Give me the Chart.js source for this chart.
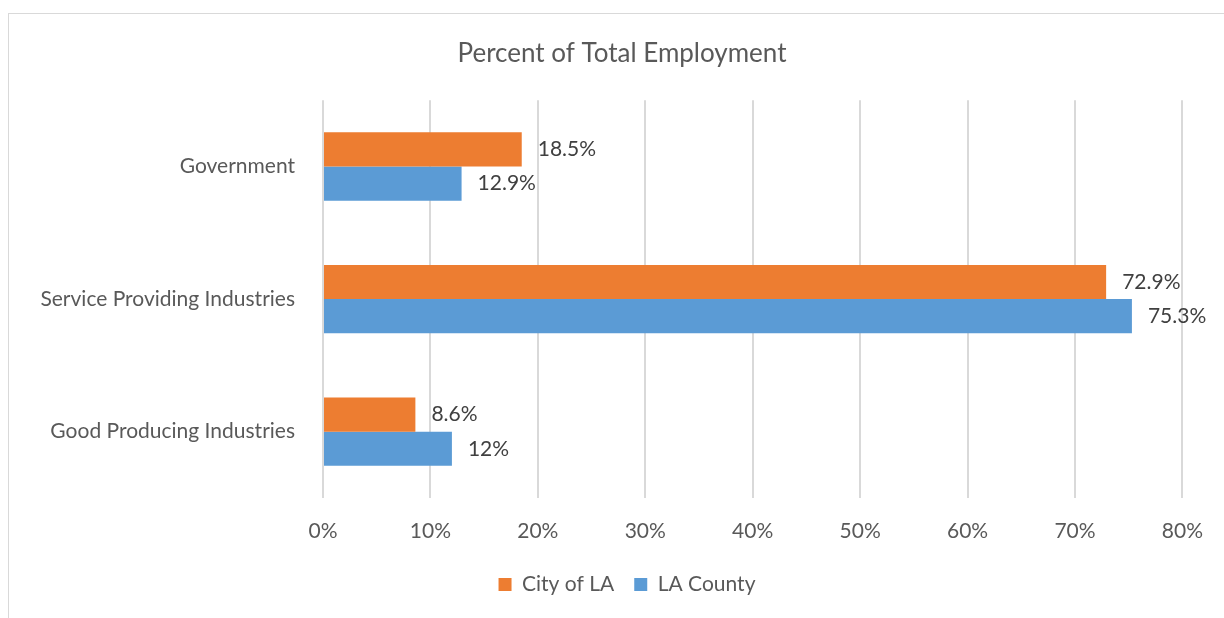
<!DOCTYPE html>
<html>
<head>
<meta charset="utf-8">
<script src="https://cdn.jsdelivr.net/npm/chart.js@4.4.1/dist/chart.umd.min.js"></script>
<style>
  html, body { margin: 0; padding: 0; background: #fff; }
  #frame {
    position: absolute; left: 8px; top: 13px; width: 1300px; height: 700px;
    border-left: 1px solid #d9d9d9; border-top: 1px solid #d9d9d9;
  }
  #wrap { position: absolute; left: 0; top: 0; width: 1224px; height: 618px; }
</style>
</head>
<body>
<div id="frame"></div>
<div id="wrap"><canvas id="chart-employment"></canvas></div>
<script>
const categories = ["Government", "Service Providing Industries", "Good Producing Industries"];
const cityOfLA = [18.5, 72.9, 8.6];
const laCounty = [12.9, 75.3, 12];
const tickStep = 10;
const tickMax = 80;

const font = "Lato";
const textColor = "#595959";

// value labels at the end of each bar
const barLabels = {
  id: "barLabels",
  afterDatasetsDraw(chart) {
    const ctx = chart.ctx;
    ctx.save();
    ctx.font = "21px " + font;
    ctx.fillStyle = "#404040";
    ctx.textAlign = "left";
    ctx.textBaseline = "middle";
    chart.data.datasets.forEach((ds, i) => {
      chart.getDatasetMeta(i).data.forEach((bar, j) => {
        ctx.fillText(ds.data[j] + "%", bar.x + 16, bar.y);
      });
    });
    ctx.restore();
  }
};

// centre title and legend a bit further right, like the original
const shiftBlocks = {
  id: "shiftBlocks",
  afterLayout(chart) {
    if (chart.titleBlock) { chart.titleBlock.left += 30; chart.titleBlock.right += 30; }
    if (chart.legend) { chart.legend.left += 35; chart.legend.right += 35; }
  }
};

new Chart(document.getElementById("chart-employment"), {
  type: "bar",
  data: {
    labels: categories,
    datasets: [{
      label: "City of LA",
      data: cityOfLA,
      backgroundColor: "#ED7D31",
      borderWidth: 0
    }, {
      label: "LA County",
      data: laCounty,
      backgroundColor: "#5B9BD5",
      borderWidth: 0
    }]
  },
  options: {
    indexAxis: "y",
    responsive: true,
    maintainAspectRatio: false,
    animation: false,
    categoryPercentage: 0.515,
    barPercentage: 1,
    layout: {
      padding: { top: 14, right: 40, bottom: 13, left: 0 }
    },
    scales: {
      x: {
        min: 0,
        max: tickMax,
        ticks: {
          stepSize: tickStep,
          padding: 21,
          color: textColor,
          font: { family: font, size: 21 },
          callback: v => v + "%"
        },
        grid: { color: "#d9d9d9", lineWidth: 2, drawTicks: false },
        border: { display: false },
        afterFit: s => { s.height = 56; }
      },
      y: {
        ticks: {
          padding: 28,
          color: textColor,
          font: { family: font, size: 21 }
        },
        grid: { display: false, drawTicks: false },
        border: { display: false },
        afterFit: s => { s.width = 323; }
      }
    },
    plugins: {
      title: {
        display: true,
        text: "Percent of Total Employment",
        color: textColor,
        font: { family: font, size: 26, weight: "normal" },
        padding: { top: 24, bottom: 31 }
      },
      legend: {
        position: "bottom",
        labels: {
          color: textColor,
          font: { family: font, size: 21 },
          boxWidth: 13,
          boxHeight: 13,
          padding: 20
        }
      },
      tooltip: { enabled: false }
    }
  },
  plugins: [barLabels, shiftBlocks]
});
</script>
</body>
</html>
